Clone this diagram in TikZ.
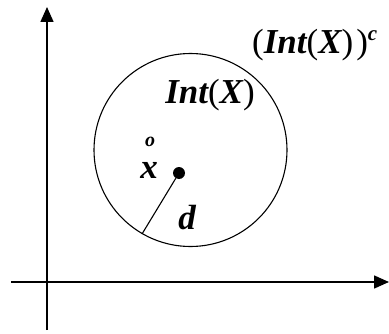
\documentclass[tikz,border=0pt]{standalone}
\usepackage{fontspec}
\setmainfont{Liberation Serif}
\usetikzlibrary{arrows.meta}
\newcommand{\lp}{{\mdseries\upshape(}}
\newcommand{\rp}{{\mdseries\upshape)}}
\begin{document}
\begin{tikzpicture}[x=1pt,y=1pt,
  axis/.style={line width=1.6pt,-{Triangle[length=15pt,width=13pt]}},
  lbl/.style={font=\fontsize{35}{38}\selectfont\bfseries\itshape, inner sep=0pt},
  small/.style={font=\fontsize{20}{22}\selectfont\bfseries\itshape, inner sep=0pt}]
\useasboundingbox (0,0) rectangle (389,333);
\coordinate (yb) at (47,3);
\coordinate (yt) at (47,326);
\coordinate (xl) at (11,51);
\coordinate (xr) at (389,51);
\draw[axis] (yb) -- (yt);
\draw[axis] (xl) -- (xr);
\node[circle, draw, line width=1.1pt, minimum size=193pt, inner sep=0pt] (c) at (190.5,183) {};
\node[circle, fill, minimum size=12pt, inner sep=0pt] (p) at (179,160) {};
\draw[line width=1.1pt] (p) -- (c.240);
\node[lbl] (d) at (187,115) {d};
\node[lbl] (x) at (149,163) {x};
\node[small] (o) at (150,191) {o};
\node[lbl] (int) at (210,238) {Int\lp X\rp};
\node[lbl, anchor=west] (comp) at (252,288) {\lp Int\lp X\rp\kern3pt\rp\raisebox{13pt}{\fontsize{21}{23}\selectfont\itshape c}};
\end{tikzpicture}
\end{document}
